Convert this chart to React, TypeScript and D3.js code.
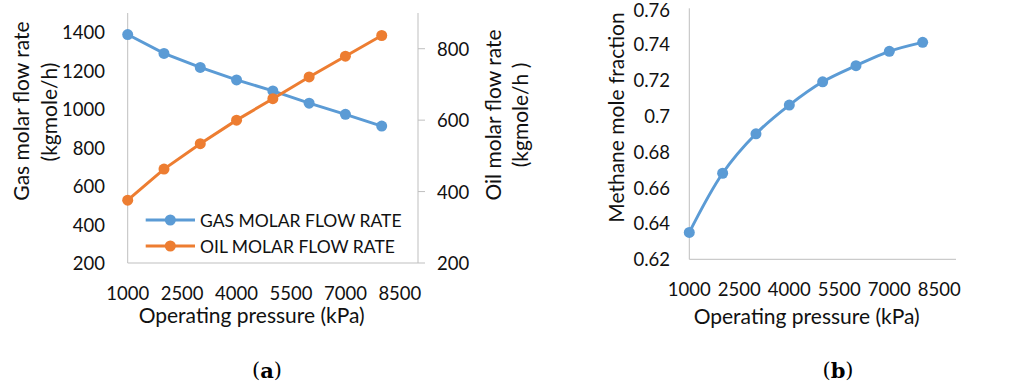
import * as d3 from "d3";
import { useRef, useEffect } from "react";

// pressure steps shared by both charts (kPa)
const pressures = [1000, 2000, 3000, 4000, 5000, 6000, 7000, 8000];
const xTickValues = [1000, 2500, 4000, 5500, 7000, 8500];

// chart (a)
const gasFlow = [1388, 1290, 1217, 1152, 1095, 1031, 973, 912];
const oilFlow = [376, 463, 534, 600, 660, 721, 779, 837];
const gasTicks = [200, 400, 600, 800, 1000, 1200, 1400];
const oilTicks = [200, 400, 600, 800];

// chart (b)
const methaneFraction = [0.635, 0.668, 0.69, 0.706, 0.719, 0.728, 0.736, 0.741];
const methaneTicks = [0.62, 0.64, 0.66, 0.68, 0.7, 0.72, 0.74, 0.76];

const width = 1014;
const height = 385;
const font = "Lato, 'Open Sans', sans-serif";
const textColor = "#111";
const axisColor = "#bfbfbf";
const blue = "#5b9bd5";
const orange = "#ed7d31";
const tickSize = 18.5;
const titleSize = 21;

const App = () => {
  const svgRef = useRef<SVGSVGElement | null>(null);

  useEffect(() => {
    if (!svgRef.current) return;
    const svg = d3.select(svgRef.current);
    svg.selectAll("*").remove();

    const label = (g: any, x: number, y: number, txt: string, size: number, anchor = "middle", rotate = false) =>
      g.append("text")
        .attr("x", x).attr("y", y)
        .attr("transform", rotate ? `rotate(-90,${x},${y})` : null)
        .attr("text-anchor", anchor)
        .attr("dominant-baseline", "central")
        .attr("font-family", font)
        .attr("font-size", size)
        .attr("fill", textColor)
        .text(txt);

    const drawSeries = (g: any, xs: any, ys: any, values: number[], color: string, curve: any) => {
      const pts = pressures.map((p, i) => [p, values[i]] as [number, number]);
      g.append("path")
        .attr("d", d3.line<[number, number]>().x((d) => xs(d[0])).y((d) => ys(d[1])).curve(curve)(pts))
        .attr("fill", "none")
        .attr("stroke", color)
        .attr("stroke-width", 3);
      g.selectAll(null)
        .data(pts)
        .enter().append("circle")
        .attr("cx", (d: any) => xs(d[0]))
        .attr("cy", (d: any) => ys(d[1]))
        .attr("r", 5.5)
        .attr("fill", color);
    };

    // ---------- chart (a) ----------
    const a = svg.append("g");
    const xA = d3.scaleLinear().domain([1000, 9000]).range([127.7, 418]);
    const yGas = d3.scaleLinear().domain([200, 1500]).range([263, 13]);
    const yOil = d3.scaleLinear().domain([200, 900]).range([263, 13]);

    // plot area lines
    a.append("line").attr("x1", xA(1000)).attr("x2", xA(1000)).attr("y1", yGas(1500)).attr("y2", yGas(200)).attr("stroke", axisColor);
    a.append("line").attr("x1", xA(9000)).attr("x2", xA(9000)).attr("y1", yGas(1500)).attr("y2", yGas(200)).attr("stroke", axisColor);
    a.append("line").attr("x1", xA(1000)).attr("x2", xA(9000)).attr("y1", yGas(200)).attr("y2", yGas(200)).attr("stroke", axisColor);

    gasTicks.forEach((t) => label(a, 105, yGas(t), String(t), tickSize, "end"));
    oilTicks.forEach((t) => {
      a.append("line").attr("x1", xA(9000)).attr("x2", xA(9000) + 7).attr("y1", yOil(t)).attr("y2", yOil(t)).attr("stroke", axisColor);
      label(a, 437, yOil(t), String(t), tickSize, "start");
    });
    xTickValues.forEach((t) => label(a, xA(t), 292.7, String(t), tickSize));

    label(a, 251.7, 314, "Operating pressure (kPa)", titleSize);
    label(a, 20, 111, "Gas molar flow rate", titleSize, "middle", true);
    label(a, 48, 112, "(kgmole/h)", titleSize, "middle", true);
    label(a, 492, 115, "Oil molar flow rate", titleSize, "middle", true);
    label(a, 519, 115, "(kgmole/h )", titleSize, "middle", true);

    drawSeries(a, xA, yGas, gasFlow, blue, d3.curveLinear);
    drawSeries(a, xA, yOil, oilFlow, orange, d3.curveLinear);

    // legend
    const legend = [
      { name: "GAS MOLAR FLOW RATE", color: blue, y: 220 },
      { name: "OIL MOLAR FLOW RATE", color: orange, y: 246 },
    ];
    legend.forEach((l) => {
      a.append("line").attr("x1", 145.7).attr("x2", 195).attr("y1", l.y).attr("y2", l.y).attr("stroke", l.color).attr("stroke-width", 3);
      a.append("circle").attr("cx", 170.3).attr("cy", l.y).attr("r", 5.5).attr("fill", l.color);
      label(a, 200, l.y, l.name, 17.5, "start");
    });

    // ---------- chart (b) ----------
    const b = svg.append("g");
    const xB = d3.scaleLinear().domain([1000, 9000]).range([689.3, 956]);
    const yB = d3.scaleLinear().domain([0.62, 0.76]).range([259.3, 8.3]);

    b.append("line").attr("x1", xB(1000)).attr("x2", xB(1000)).attr("y1", yB(0.76)).attr("y2", yB(0.62)).attr("stroke", axisColor);
    b.append("line").attr("x1", xB(1000)).attr("x2", xB(9000)).attr("y1", yB(0.62)).attr("y2", yB(0.62)).attr("stroke", axisColor);

    methaneTicks.forEach((t) => label(b, 670, Math.max(yB(t), 10), String(+t.toFixed(2)), tickSize, "end"));
    xTickValues.forEach((t) => label(b, xB(t), 289.3, String(t), tickSize));
    label(b, 806.7, 315, "Operating pressure (kPa)", titleSize);
    label(b, 615, 117.5, "Methane mole fraction", titleSize, "middle", true);

    drawSeries(b, xB, yB, methaneFraction, blue, d3.curveCatmullRom);

    // sub-figure captions
    [{ x: 267, t: "a" }, { x: 838, t: "b" }].forEach((c) => {
      const txt = svg.append("text")
        .attr("x", c.x).attr("y", 370)
        .attr("text-anchor", "middle")
        .attr("dominant-baseline", "central")
        .attr("font-family", "'DejaVu Serif', serif")
        .attr("font-size", 21)
        .attr("fill", "#000");
      txt.append("tspan").text("(");
      txt.append("tspan").attr("font-weight", "bold").text(c.t);
      txt.append("tspan").text(")");
    });
  }, []);

  return (
    <svg
      ref={svgRef}
      width={width}
      height={height}
      style={{ position: "absolute", left: 0, top: 0, background: "#fff" }}
    />
  );
};

export default App;
